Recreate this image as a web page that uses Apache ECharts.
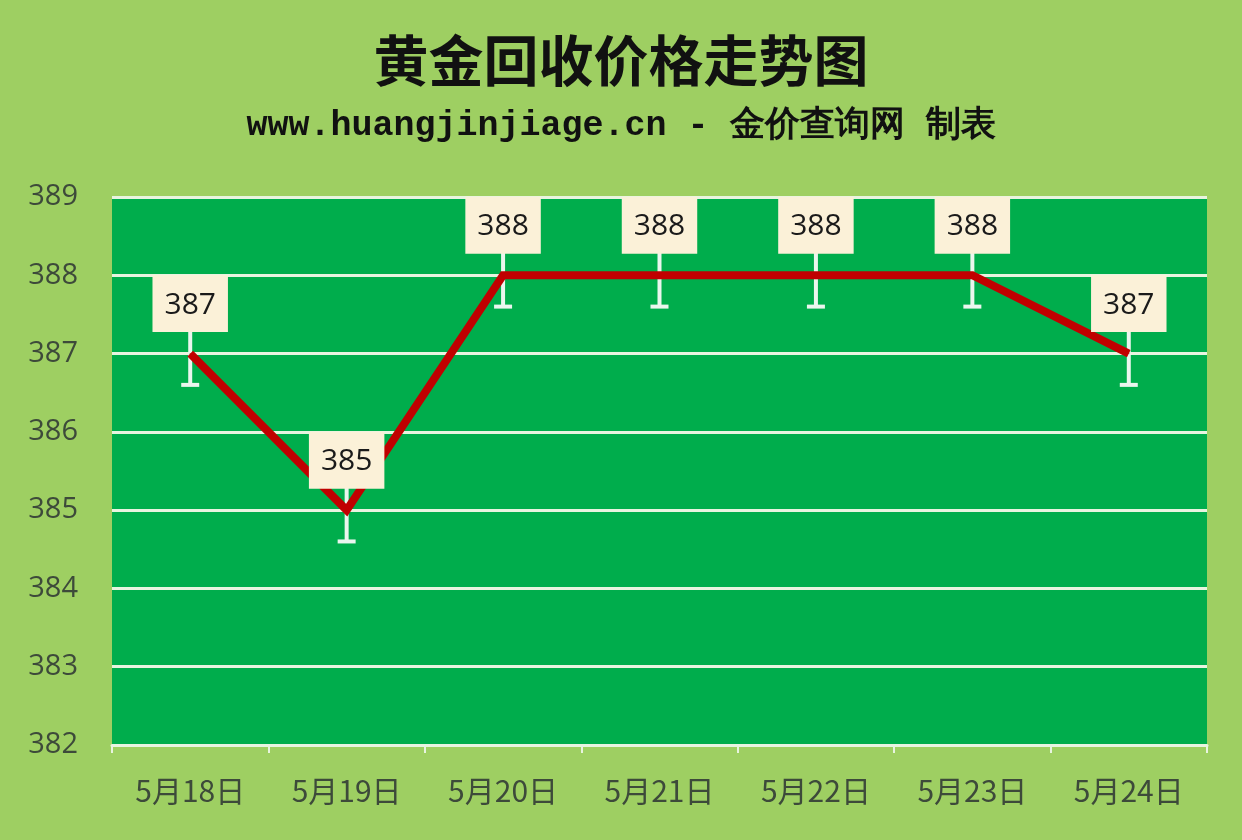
<!DOCTYPE html>
<html><head><meta charset="utf-8">
<script src="https://cdn.jsdelivr.net/npm/echarts@6/dist/echarts.min.js"></script>
<style>html,body{margin:0;padding:0;background:#9ECF62;}#c{width:1242px;height:840px;}</style>
</head><body><div id="c"></div>
<script>
const categories = ['5月18日','5月19日','5月20日','5月21日','5月22日','5月23日','5月24日'];
const prices = [387, 385, 388, 388, 388, 388, 387];
const errAmount = [0.4, 0.4, 0.4, 0.4, 0.4, 0.4, 0.4];
const yTicks = {min: 382, max: 389, interval: 1};
const titleText = '黄金回收价格走势图';
const subtitleText = 'www.huangjinjiage.cn - 金价查询网 制表';

const chart = echarts.init(document.getElementById('c'));
chart.setOption({
  backgroundColor: '#9ECF62',
  animation: false,
  title: [
    {text: titleText, left: 'center', top: 28,
     textStyle: {fontFamily: 'Noto Sans CJK SC', fontSize: 55, fontWeight: 'bold', color: '#111'}},
    {text: subtitleText, left: 'center', top: 104,
     textStyle: {fontFamily: 'Liberation Mono', fontSize: 35, fontWeight: 'bold', color: '#111'}}
  ],
  grid: {left: 112, right: 35, top: 197, bottom: 95, show: true, backgroundColor: '#00AD4C', borderWidth: 0},
  xAxis: {
    type: 'category', data: categories, boundaryGap: true,
    axisLine: {show: true, lineStyle: {color: '#E8F4E0', width: 3}},
    axisTick: {show: true, length: 8, lineStyle: {color: '#E8F4E0', width: 2}},
    axisLabel: {fontFamily: 'Noto Sans CJK SC', fontSize: 30, color: '#3D4A3A', margin: 31}
  },
  yAxis: {
    type: 'value', min: yTicks.min, max: yTicks.max, interval: yTicks.interval,
    axisLine: {show: false}, axisTick: {show: false},
    axisLabel: {fontFamily: 'Open Sans', fontSize: 29, color: '#3D4A3A', margin: 34},
    splitLine: {show: true, lineStyle: {color: '#E8F4E0', width: 3}}
  },
  series: [
    {
      type: 'custom', z: 1, silent: true,
      data: prices.map((v, i) => [i, v, errAmount[i]]),
      renderItem: function (params, api) {
        const x = api.value(0), v = api.value(1), e = api.value(2);
        const top = api.coord([x, v + e]);
        const bot = api.coord([x, v - e]);
        const lw = 4, cap = 9;
        return {type: 'group', children: [
          {type: 'line', shape: {x1: top[0], y1: top[1], x2: bot[0], y2: bot[1]}, style: {stroke: '#EAF6EE', lineWidth: lw}},
          {type: 'line', shape: {x1: bot[0] - cap, y1: bot[1], x2: bot[0] + cap, y2: bot[1]}, style: {stroke: '#EAF6EE', lineWidth: lw}}
        ]};
      }
    },
    {
      type: 'line', z: 3, data: prices, symbol: 'circle', symbolSize: 1, showSymbol: true,
      itemStyle: {color: '#C00000'},
      lineStyle: {color: '#C00000', width: 8, join: 'miter'},
      label: {
        show: true, position: 'top', distance: 21,
        backgroundColor: '#FBF1D8', padding: [15, 12, 12, 12],
        fontFamily: 'Open Sans', fontSize: 30, color: '#1a1a1a'
      }
    }
  ]
});
</script></body></html>
